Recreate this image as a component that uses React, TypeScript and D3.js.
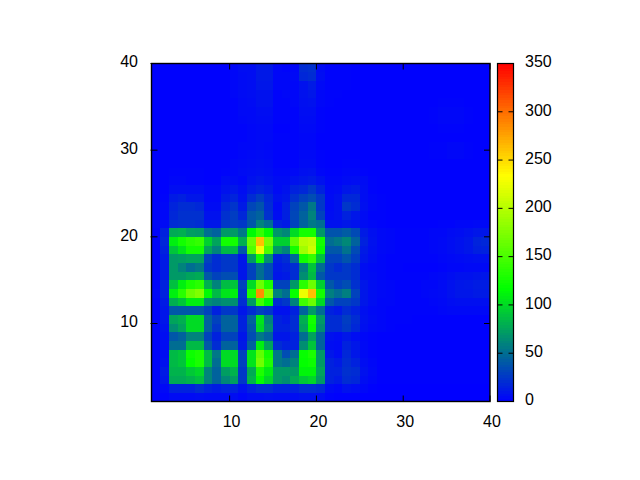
import React from "react";
import * as d3 from "d3";

const xTicks = [10, 20, 30, 40];
const yTicks = [10, 20, 30, 40];
const cbTicks = [0, 50, 100, 150, 200, 250, 300, 350];
const paletteStops = [0, 350 / 3, 700 / 3, 350];
const paletteColors = ["#0000ff", "#00ff00", "#ffff00", "#ff0000"];

// Cell values, top row first (y 39-40 down to y 1-2), each row x 1-2 ... 39-40
const cells: number[][] = [
  [1,1,1,1,1,1,1,1,1,3,6,6,11,11,3,2,3,20,22,5,2,2,2,1,1,1,1,1,1,1,1,1,1,1,1,1,1,1,1],
  [1,1,1,1,1,1,1,1,1,3,5,6,11,11,3,3,4,18,20,6,2,2,2,1,1,1,1,1,1,1,1,1,1,1,1,1,1,1,1],
  [1,1,1,1,1,1,1,1,1,3,5,6,10,10,3,3,3,8,12,4,2,2,2,1,1,1,1,1,1,1,1,1,1,1,1,1,1,1,1],
  [1,1,1,1,1,1,1,1,1,3,5,6,8,8,2,3,3,8,10,3,2,2,1,1,1,1,1,1,1,1,1,1,1,1,1,1,1,1,1],
  [1,1,1,1,1,1,1,1,1,2,4,5,8,8,2,2,3,7,8,3,2,1,1,1,1,1,1,1,1,1,1,1,1,2,2,2,1,1,1],
  [1,1,1,1,1,1,1,1,1,2,4,4,6,6,2,2,2,6,6,2,1,1,1,1,1,1,1,1,1,1,1,1,2,3,3,3,2,1,1],
  [1,1,1,1,1,1,1,1,1,2,3,4,5,5,2,2,2,5,5,2,1,1,1,1,1,1,1,1,1,1,1,1,2,3,3,3,2,1,1],
  [1,1,1,1,1,1,1,1,1,2,2,3,4,4,1,1,2,4,4,2,1,1,1,1,1,1,1,1,1,1,1,1,1,2,2,2,1,1,1],
  [1,1,1,1,1,1,1,1,1,2,2,3,4,4,2,2,2,3,3,1,1,1,1,1,1,1,1,1,1,1,1,1,1,1,1,1,1,1,1],
  [1,1,1,1,1,1,1,1,1,2,3,3,4,3,2,2,2,3,3,1,1,1,1,1,1,1,1,1,1,1,1,1,2,2,3,3,2,1,1],
  [1,1,1,1,1,1,1,1,1,2,3,4,5,4,2,2,2,4,4,2,1,1,1,1,1,1,1,1,1,1,1,1,2,2,3,3,2,1,1],
  [1,1,1,1,1,1,1,1,1,3,4,5,6,5,2,2,2,5,5,2,1,1,2,2,1,1,1,1,1,1,1,1,1,1,1,1,1,1,1],
  [1,1,2,2,2,2,1,1,2,3,5,6,7,6,3,3,4,7,8,3,2,2,3,3,2,1,1,1,1,1,1,1,1,1,1,1,1,1,1],
  [1,1,3,3,2,2,1,1,5,5,3,8,10,8,5,5,8,10,12,8,3,3,5,6,5,2,1,1,1,1,1,1,1,1,1,1,1,1,1],
  [1,1,6,6,6,6,3,3,8,10,6,12,15,12,5,8,15,18,25,15,4,5,10,12,6,2,1,1,1,1,1,1,1,1,1,1,1,1,1],
  [1,2,12,14,10,10,3,3,12,16,8,20,28,18,8,10,22,30,35,25,5,8,18,18,6,3,2,1,1,1,1,1,1,1,1,1,1,1,1],
  [2,3,16,20,20,18,5,5,18,24,12,32,38,20,5,14,30,40,55,25,5,8,25,20,7,3,2,1,1,1,1,1,1,1,1,1,1,1,1],
  [2,3,18,22,22,22,8,8,22,28,18,40,45,22,6,14,32,45,60,30,6,8,15,10,5,2,2,1,1,1,1,1,1,1,1,1,1,1,1],
  [3,5,20,22,22,20,10,10,25,28,25,40,60,50,15,12,30,45,55,50,8,8,10,8,5,3,2,1,1,1,1,1,1,2,2,3,3,4,4],
  [2,15,78,80,72,70,50,45,70,70,55,115,140,115,68,62,100,125,125,70,38,38,42,34,12,7,4,3,2,2,2,2,3,3,5,6,8,10,10],
  [2,18,110,125,135,140,95,75,125,125,80,165,262,170,95,95,160,200,205,125,50,55,62,45,15,8,4,3,2,2,2,2,3,4,6,8,10,16,18],
  [2,15,90,105,125,125,75,60,85,85,40,155,228,150,70,60,125,190,210,120,40,40,52,34,12,7,4,3,2,2,2,2,3,4,6,8,10,14,15],
  [2,12,70,72,75,75,30,20,25,25,10,70,125,65,15,20,48,125,140,88,30,30,38,28,10,6,3,2,2,2,2,2,2,3,4,5,6,7,7],
  [2,12,70,60,50,55,25,20,25,25,10,30,50,35,12,15,20,58,90,50,25,20,25,20,6,4,3,2,2,1,1,1,1,2,3,3,4,4,4],
  [2,12,70,70,75,78,40,30,35,35,10,30,50,35,10,12,20,65,85,40,25,25,25,20,6,5,3,2,2,2,2,2,3,4,6,8,8,9,10],
  [2,15,88,110,128,135,80,60,86,90,30,100,165,130,30,30,70,135,165,95,40,30,35,22,10,6,4,3,2,2,2,3,3,5,8,10,11,13,13],
  [3,15,110,135,165,175,115,85,105,110,25,130,285,175,60,50,120,225,262,125,58,50,58,30,10,6,4,3,2,2,2,3,4,5,8,10,10,12,12],
  [2,12,80,90,110,110,65,60,65,65,20,70,145,115,20,25,60,145,165,100,40,30,30,25,10,6,3,3,2,2,2,2,3,4,6,7,7,7,7],
  [2,10,40,40,40,40,30,15,25,25,10,20,30,25,8,8,15,45,70,50,15,12,20,15,7,4,3,2,2,2,2,2,2,3,4,4,4,4,4],
  [2,10,75,80,100,100,45,30,45,45,15,45,105,60,15,12,20,80,125,70,20,20,28,20,8,5,3,2,2,2,1,1,1,1,1,1,1,1,1],
  [2,8,65,75,100,100,45,25,45,45,15,40,100,65,15,15,20,75,120,65,20,20,26,18,7,4,3,2,1,1,1,1,1,1,1,1,1,1,1],
  [2,6,40,45,60,60,30,15,30,30,10,35,55,45,10,10,15,50,75,45,8,6,10,6,3,2,1,1,1,1,1,1,1,1,1,1,1,1,1],
  [2,6,50,50,85,85,40,20,45,45,12,45,110,75,20,15,15,65,90,45,6,5,15,10,4,2,1,1,1,1,1,1,1,1,1,1,1,1,1],
  [2,6,85,90,122,128,85,55,100,100,30,105,160,125,55,35,50,120,128,70,10,6,18,10,4,2,1,1,1,1,1,1,1,1,1,1,1,1,1],
  [2,8,85,90,118,128,85,50,100,100,30,105,168,130,55,50,60,118,122,70,15,12,20,15,6,3,1,1,1,1,1,1,1,1,1,1,1,1,1],
  [2,12,82,82,92,98,60,45,72,82,25,78,130,108,70,70,70,112,112,75,15,15,22,20,8,4,1,1,1,1,1,1,1,1,1,1,1,1,1],
  [2,10,78,78,82,88,60,45,62,72,25,82,118,98,70,65,78,92,98,70,15,12,20,18,6,3,1,1,1,1,1,1,1,1,1,1,1,1,1],
  [2,4,15,15,15,20,15,12,15,15,8,15,20,20,15,15,15,20,20,18,5,3,8,6,3,1,0,0,0,0,0,0,0,0,0,0,0,0,0],
  [1,2,5,5,5,6,5,5,5,6,3,6,6,7,6,6,6,8,8,6,2,1,1,1,0,0,0,0,0,0,0,0,0,0,0,0,0,0,0],
];

const W = 640, H = 480;
const left = 151.5, right = 490, top = 63.5, bottom = 401.5;
const cbLeft = 497.5, cbRight = 513.5;
const font = "'Liberation Sans', Arial, sans-serif";

const x = d3.scaleLinear().domain([1, 40]).range([left, right]);
const y = d3.scaleLinear().domain([1, 40]).range([bottom, top]);
const cb = d3.scaleLinear().domain([0, 350]).range([bottom, top]);
const color = d3.scaleLinear<string>().domain(paletteStops).range(paletteColors).interpolate(d3.interpolateRgb).clamp(true);
const cbSteps = d3.range(0, 350, 350 / 128);

export default function App() {
  return (
    <svg width={W} height={H} style={{ position: "fixed", left: 0, top: 0, background: "#fff" }} fontFamily={font} fontSize={16} fill="#000">
      <g shapeRendering="crispEdges">
        {cells.map((row, r) =>
          row.map((v, c) => {
            const yv = 39 - r;
            return (
              <rect key={`${r}-${c}`} x={x(c + 1)} y={y(yv + 1)} width={x(c + 2) - x(c + 1)} height={y(yv) - y(yv + 1)} fill={color(v)} />
            );
          })
        )}
        {cbSteps.map((v) => (
          <rect key={v} x={cbLeft} width={cbRight - cbLeft} y={cb(v + 350 / 128)} height={cb(v) - cb(v + 350 / 128)} fill={color(v + 175 / 128)} />
        ))}
      </g>
      <g stroke="#000" strokeWidth={1} fill="none">
        <rect x={left} y={top} width={right - left} height={bottom - top} strokeWidth={1.4} />
        <rect x={cbLeft} y={top} width={cbRight - cbLeft} height={bottom - top} strokeWidth={1.2} />
        {xTicks.map((t) => (
          <g key={t}>
            <line x1={x(t)} x2={x(t)} y1={bottom} y2={bottom - 6} />
            <line x1={x(t)} x2={x(t)} y1={top} y2={top + 6} />
          </g>
        ))}
        {yTicks.map((t) => (
          <g key={t}>
            <line x1={left - 1} x2={left + 6} y1={y(t)} y2={y(t)} />
            <line x1={right} x2={right - 6} y1={y(t)} y2={y(t)} />
          </g>
        ))}
        {cbTicks.map((t) => (
          <g key={t}>
            <line x1={cbLeft} x2={cbLeft + 5} y1={cb(t)} y2={cb(t)} />
            <line x1={cbRight} x2={cbRight - 5} y1={cb(t)} y2={cb(t)} />
          </g>
        ))}
      </g>
      {xTicks.map((t) => (
        <text key={t} x={x(t) + 2} y={426.5} textAnchor="middle">{t}</text>
      ))}
      {yTicks.map((t) => (
        <text key={t} x={138} y={y(t) + 3.8} textAnchor="end">{t}</text>
      ))}
      {cbTicks.map((t) => (
        <text key={t} x={525} y={cb(t) + 3.8} textAnchor="start">{t}</text>
      ))}
    </svg>
  );
}
